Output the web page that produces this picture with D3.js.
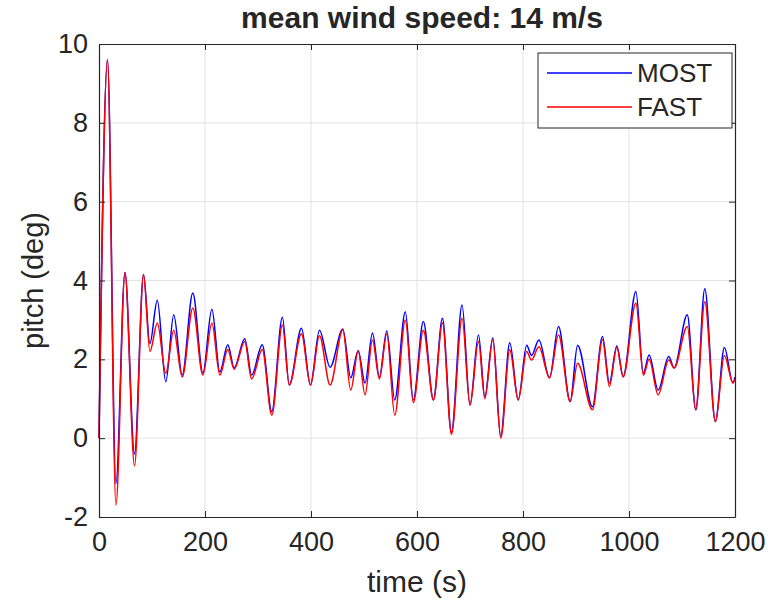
<!DOCTYPE html>
<html>
<head>
<meta charset="utf-8">
<script src="https://cdn.jsdelivr.net/npm/d3@7"></script>
<style>
  body { margin: 0; background: #fff; }
  text { font-family: "Liberation Sans", Arial, sans-serif; fill: #262626; }
</style>
</head>
<body>
<div id="chart"></div>
<script>
// turning points (time in s, pitch in deg)
var time = [0, 16, 32, 49, 67, 84, 96, 110, 126, 141, 157, 177, 196, 213, 228, 243, 255, 275, 288, 308, 326,
  346, 359, 382, 399, 416, 436, 460, 475, 489, 502, 516, 529, 543, 558, 578, 593, 612, 631, 648, 665, 685,
  700, 716, 728, 743, 758, 775, 791, 807, 816, 830, 850, 867, 889, 903, 931, 950, 963, 977, 989, 1013,
  1027, 1038, 1055, 1075, 1085, 1110, 1126, 1143, 1163, 1180, 1196, 1200];
var most = [0, 9.6, -1.15, 4.2, -0.4, 4.15, 2.4, 3.5, 1.43, 3.13, 1.6, 3.68, 1.65, 3.27, 1.68, 2.37, 1.78, 2.52, 1.6, 2.37, 0.67,
  3.07, 1.35, 2.79, 1.35, 2.74, 1.8, 2.77, 1.53, 2.22, 1.4, 2.67, 1.55, 2.72, 0.97, 3.21, 0.97, 2.96, 0.97, 3.04, 0.15, 3.38,
  0.84, 2.62, 1.05, 2.55, 0.05, 2.42, 0.97, 2.36, 2.1, 2.49, 1.53, 2.83, 0.93, 2.36, 0.8, 2.58, 1.4, 2.34, 1.56, 3.72,
  1.65, 2.11, 1.22, 2.07, 1.78, 3.13, 0.72, 3.79, 0.42, 2.3, 1.4, 1.55];
var fast = [0, 9.6, -1.7, 4.2, -0.7, 4.15, 2.2, 2.92, 1.65, 2.74, 1.55, 3.3, 1.6, 2.92, 1.6, 2.25, 1.75, 2.45, 1.5, 2.25, 0.58,
  2.87, 1.35, 2.65, 1.35, 2.6, 1.35, 2.75, 1.22, 2.22, 1.1, 2.49, 1.5, 2.65, 0.58, 3.0, 0.9, 2.74, 0.97, 2.92, 0.1, 3.04,
  0.84, 2.45, 1.0, 2.5, 0.0, 2.24, 0.97, 2.2, 1.98, 2.32, 1.53, 2.62, 0.93, 1.9, 0.72, 2.5, 1.31, 2.3, 1.56, 3.43,
  1.6, 2.0, 1.1, 1.98, 1.78, 2.83, 0.72, 3.46, 0.42, 2.1, 1.4, 1.5];
var xTicks = [0, 200, 400, 600, 800, 1000, 1200];
var yTicks = [-2, 0, 2, 4, 6, 8, 10];
var seriesNames = ["MOST", "FAST"];
var seriesColors = ["#0000ff", "#ff0000"];

var svgWidth = 768;
var svgHeight = 609;
var margin = { top: 44, right: 33, bottom: 92, left: 99 };
var width = svgWidth - margin.left - margin.right;
var height = svgHeight - margin.top - margin.bottom;

var svg = d3.select("#chart").append("svg")
  .attr("width", svgWidth)
  .attr("height", svgHeight);

var chartGroup = svg.append("g")
  .attr("transform", `translate(${margin.left}, ${margin.top})`);

var xScale = d3.scaleLinear().domain([0, 1200]).range([0, width]);
var yScale = d3.scaleLinear().domain([-2, 10]).range([height, 0]);

// grid
chartGroup.append("g").selectAll("line").data(xTicks.slice(1, -1)).enter().append("line")
  .attr("x1", d => xScale(d)).attr("x2", d => xScale(d))
  .attr("y1", 0).attr("y2", height)
  .attr("stroke", "#e3e3e3").attr("stroke-width", 1);
chartGroup.append("g").selectAll("line").data(yTicks.slice(1, -1)).enter().append("line")
  .attr("x1", 0).attr("x2", width)
  .attr("y1", d => yScale(d)).attr("y2", d => yScale(d))
  .attr("stroke", "#e3e3e3").attr("stroke-width", 1);

// lines
var rows = time.map((t, i) => ({ t: t, most: most[i], fast: fast[i] }));
["most", "fast"].forEach(function (key, k) {
  var line = d3.line()
    .x(d => xScale(d.t))
    .y(d => yScale(d[key]))
    .curve(d3.curveMonotoneX);
  chartGroup.append("path")
    .datum(rows)
    .attr("d", line)
    .attr("fill", "none")
    .attr("stroke", seriesColors[k])
    .attr("stroke-width", 1.5)
    .attr("stroke-linejoin", "round");
});

// axes (ticks inward, box on all sides)
function styleAxis(g) {
  g.select(".domain").attr("stroke", "#262626").attr("stroke-width", 1.2);
  g.selectAll(".tick line").attr("stroke", "#262626");
  g.selectAll(".tick text").style("font-size", "27px").attr("fill", "#262626");
}
chartGroup.append("g")
  .attr("transform", `translate(0, ${height})`)
  .call(d3.axisBottom(xScale).tickValues(xTicks).tickSizeInner(-6).tickSizeOuter(0).tickPadding(15).tickFormat(d => d))
  .call(styleAxis);
chartGroup.append("g")
  .call(d3.axisLeft(yScale).tickValues(yTicks).tickSizeInner(-6).tickSizeOuter(0).tickPadding(11).tickFormat(d => d))
  .call(styleAxis);
chartGroup.append("g")
  .call(d3.axisTop(xScale).tickValues(xTicks).tickSizeInner(-6).tickSizeOuter(0).tickFormat(""))
  .call(styleAxis);
chartGroup.append("g")
  .attr("transform", `translate(${width}, 0)`)
  .call(d3.axisRight(yScale).tickValues(yTicks).tickSizeInner(-6).tickSizeOuter(0).tickFormat(""))
  .call(styleAxis);

// labels
svg.append("text")
  .text("mean wind speed: 14 m/s")
  .attr("x", margin.left + width / 2 + 5).attr("y", 28)
  .style("text-anchor", "middle").style("font-size", "30px").style("font-weight", "bold")
  .attr("fill", "#000");
svg.append("text")
  .text("time (s)")
  .attr("x", margin.left + width / 2).attr("y", 592)
  .style("text-anchor", "middle").style("font-size", "30px");
svg.append("text")
  .text("pitch (deg)")
  .style("text-anchor", "middle").style("font-size", "29px")
  .attr("transform", `translate(43, ${margin.top + height / 2}) rotate(-90)`);

// legend
var legend = chartGroup.append("g").attr("transform", `translate(${width - 197}, 9)`);
legend.append("rect")
  .attr("width", 194).attr("height", 75)
  .attr("fill", "#fff").attr("stroke", "#262626").attr("stroke-width", 1);
seriesNames.forEach(function (name, k) {
  var y = 20 + k * 34;
  legend.append("line")
    .attr("x1", 9).attr("x2", 94).attr("y1", y).attr("y2", y)
    .attr("stroke", seriesColors[k]).attr("stroke-width", 1.5);
  legend.append("text")
    .text(name)
    .attr("x", 99).attr("y", y + 9)
    .style("font-size", "26px");
});
</script>
</body>
</html>
